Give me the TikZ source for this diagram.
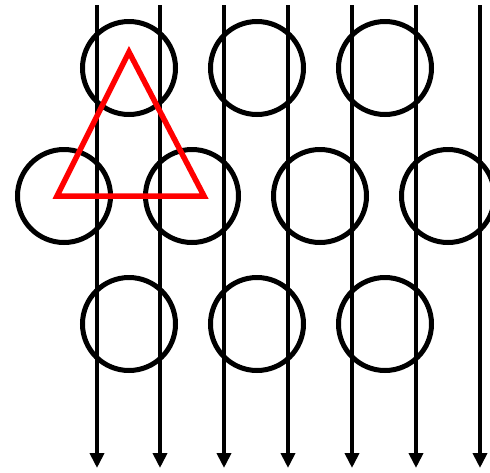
\documentclass[tikz,border=0pt]{standalone}
\usetikzlibrary{arrows.meta}
\begin{document}
\begin{tikzpicture}[
  x=1pt, y=-1pt,
  ball/.style={circle, draw=black, line width=5pt, minimum size=93pt, inner sep=0pt},
  ray/.style={-{Triangle[length=15pt,width=14pt]}, line width=4pt, black},
  tri/.style={draw=red, line width=5.5pt, line join=miter}
]
\clip (0,0) rectangle (490,472);
\useasboundingbox (0,0) rectangle (490,472);
% lattice
\foreach \i/\x in {1/129,2/257,3/385} {
  \node[ball] (top\i) at (\x,68) {};
  \node[ball] (bot\i) at (\x,324) {};
}
\foreach \i/\x in {1/64,2/192,3/320,4/448}
  \node[ball] (mid\i) at (\x,196) {};
% rays
\foreach \i/\x in {1/97,2/160,3/224,4/288,5/352,6/416,7/480} {
  \coordinate (src\i) at (\x,5);
  \coordinate (dst\i) at (\x,468);
  \draw[ray] (src\i) -- (dst\i);
}
% triangle
\coordinate (apex) at (129,52);
\coordinate (left) at (57,196);
\coordinate (right) at (204,196);
\draw[tri] (apex) -- (left) -- (right) -- cycle;
\end{tikzpicture}
\end{document}
